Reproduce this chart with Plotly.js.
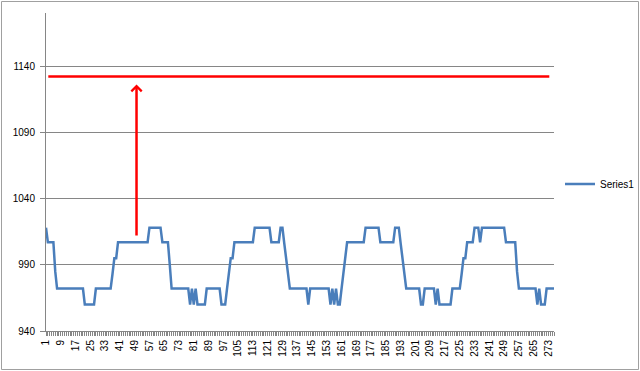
<!DOCTYPE html>
<html>
<head>
<meta charset="utf-8">
<script src="https://cdn.plot.ly/plotly-3.0.1.min.js"></script>
<style>
  html, body { margin: 0; padding: 0; background: #fff; }
  #chart { width: 640px; height: 371px; }
</style>
</head>
<body>
<div id="chart"></div>
<script>
// ---- data ----
var seriesName = "Series1";
var series1 = [
  1018,1007,1007,1007,1007,985,972,972,972,972,
  972,972,972,972,972,972,972,972,972,972,
  972,960,960,960,960,960,960,972,972,972,
  972,972,972,972,972,972,983,995,995,1007,
  1007,1007,1007,1007,1007,1007,1007,1007,1007,1007,
  1007,1007,1007,1007,1007,1007,1018,1018,1018,1018,
  1018,1018,1018,1007,1007,1007,1007,990,972,972,
  972,972,972,972,972,972,972,972,960,972,
  960,972,960,960,960,960,960,972,972,972,
  972,972,972,972,972,960,960,960,972,983,
  995,995,1007,1007,1007,1007,1007,1007,1007,1007,
  1007,1007,1007,1018,1018,1018,1018,1018,1018,1018,
  1018,1018,1007,1007,1007,1007,1007,1018,1018,1006,
  994,982,972,972,972,972,972,972,972,972,
  972,972,960,972,972,972,972,972,972,972,
  972,972,972,972,960,972,960,972,960,960,
  972,985,995,1007,1007,1007,1007,1007,1007,1007,
  1007,1007,1007,1018,1018,1018,1018,1018,1018,1018,
  1018,1007,1007,1007,1007,1007,1007,1007,1007,1018,
  1018,1018,1006,994,982,972,972,972,972,972,
  972,972,972,960,960,972,972,972,972,972,
  972,960,972,960,960,960,960,960,960,960,
  972,972,972,972,972,983,995,995,1007,1007,
  1007,1007,1018,1018,1018,1007,1018,1018,1018,1018,
  1018,1018,1018,1018,1018,1018,1018,1018,1018,1007,
  1007,1007,1007,1007,1007,985,972,972,972,972,
  972,972,972,972,972,972,960,972,960,960,
  960,972,972,972,972,972
];
var categories = series1.map(function (_, i) { return i + 1; });
var xTickVals = [1,9,17,25,33,41,49,57,65,73,81,89,97,105,113,121,129,137,145,153,161,169,177,185,193,201,209,217,225,233,241,249,257,265,273];
var xTickText = xTickVals.map(String);
var yTickVals = [940,990,1040,1090,1140];
var yRange = [940, 1180];
var targetLevel = 1132;       // red horizontal line
var arrowCategory = 50;       // red arrow x
var arrowFrom = 1011;         // arrow tail value
var arrowTo = 1126;           // arrow tip value

// ---- layout helpers ----
var W = 640, H = 371;
var m = { l: 46, r: 86, t: 13, b: 40, autoexpand: false };
var pw = W - m.l - m.r, ph = H - m.t - m.b;
function pxX(px) { return (px - m.l) / pw; }
function pxY(py) { return (H - m.b - py) / ph; }
function valY(v) { return (v - yRange[0]) / (yRange[1] - yRange[0]); }

var axisColor = "#868686";
var font = { family: "Liberation Sans, Arial, sans-serif", size: 10, color: "#000" };

var trace = {
  x: categories,
  y: series1,
  type: "scatter",
  mode: "lines",
  name: seriesName,
  line: { color: "#4a7ebb", width: 2.5 },
  showlegend: true
};

var layout = {
  width: W, height: H,
  margin: m,
  paper_bgcolor: "#fff",
  plot_bgcolor: "#fff",
  font: font,
  showlegend: true,
  legend: {
    x: pxX(560), y: pxY(184), xanchor: "left", yanchor: "middle",
    font: font, bgcolor: "rgba(0,0,0,0)", borderwidth: 0
  },
  xaxis: {
    range: [1, categories.length],
    tickmode: "array", tickvals: xTickVals, ticktext: xTickText,
    tickangle: -90,
    showline: true, linecolor: axisColor, linewidth: 1,
    ticks: "outside", ticklen: 4, tickcolor: axisColor, tickwidth: 1,
    minor: { tickmode: "linear", tick0: 1, dtick: 1, ticks: "outside", ticklen: 4, tickcolor: axisColor, tickwidth: 1, showgrid: false },
    showgrid: false, zeroline: false, automargin: false,
    tickfont: font, fixedrange: true
  },
  yaxis: {
    range: yRange,
    tickmode: "array", tickvals: yTickVals,
    showline: true, linecolor: axisColor, linewidth: 1,
    ticks: "outside", ticklen: 5, tickcolor: axisColor,
    showgrid: true, gridcolor: axisColor, gridwidth: 1,
    zeroline: false, tickfont: font, ticklabelstandoff: 3, automargin: false, fixedrange: true
  },
  shapes: [
    { type: "line", xref: "paper", yref: "paper",
      x0: pxX(48.3), x1: pxX(549.3), y0: valY(targetLevel), y1: valY(targetLevel),
      line: { color: "#ff0000", width: 2.5 } },
    { type: "rect", xref: "paper", yref: "paper",
      x0: pxX(1.5), x1: pxX(638.5), y0: pxY(369.5), y1: pxY(1.5),
      line: { color: "#a0a0a0", width: 1 }, fillcolor: "rgba(0,0,0,0)" }
  ],
  annotations: [
    { x: arrowCategory, y: arrowTo, ax: arrowCategory, ay: arrowFrom,
      xref: "x", yref: "y", axref: "x", ayref: "y",
      text: "", showarrow: true, arrowhead: 4, arrowsize: 0.8,
      arrowwidth: 2.5, arrowcolor: "#ff0000", standoff: 0, startstandoff: 0 }
  ]
};

Plotly.newPlot("chart", [trace], layout, { displayModeBar: false, staticPlot: true });
</script>
</body>
</html>
